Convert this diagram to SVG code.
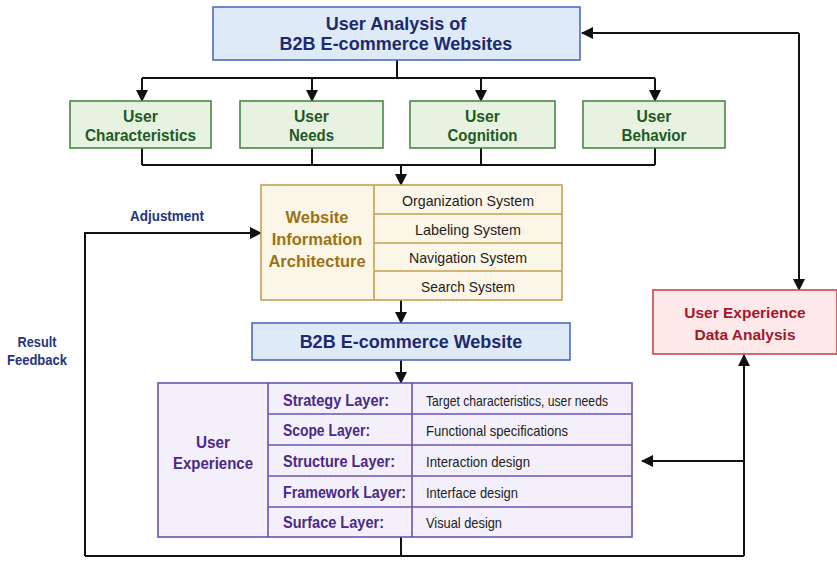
<svg xmlns="http://www.w3.org/2000/svg" width="837" height="561" viewBox="0 0 837 561">
<defs>
<marker id="ah" markerUnits="userSpaceOnUse" markerWidth="12" markerHeight="12" viewBox="0 0 12 12" refX="11" refY="6" orient="auto">
<path d="M0,0 L12,6 L0,12 Z" fill="#111"/>
</marker>
<style>
text{font-family:"Liberation Sans",Arial,sans-serif;text-anchor:middle}
.ln{fill:none;stroke:#111;stroke-width:2}
.ar{fill:none;stroke:#111;stroke-width:2;marker-end:url(#ah)}
.blue{fill:#dfeaf9;stroke:#4a6cc0;stroke-width:1.6}
.bt{fill:#1d2b6d;font-weight:bold;font-size:18px}
.green{fill:#e7f2e1;stroke:#4a8744;stroke-width:1.6}
.gt{fill:#1f5b24;font-weight:bold;font-size:16.5px}
.gold{fill:#fcf6e8;stroke:#c5a04f;stroke-width:1.6}
.goldt{fill:#9a7215;font-weight:bold;font-size:16.5px}
.sys{fill:#222;font-size:15px}
.purp{fill:#f4f0fb;stroke:#6c52b3;stroke-width:1.6}
.pt{fill:#4a2a86;font-weight:bold;font-size:17px}
.lay{fill:#4a2a86;font-weight:bold;font-size:16px;text-anchor:start}
.desc{fill:#222;font-size:15px;text-anchor:start}
.red{fill:#fde9ea;stroke:#c9474f;stroke-width:1.6}
.rt{fill:#a3172b;font-weight:bold;font-size:15.5px}
.lab{fill:#24357f;font-weight:bold;font-size:15px}
</style>
</defs>
<rect width="837" height="561" fill="#ffffff"/>

<g id="connectors">
<path class="ln" d="M397,60 V78 M142,78 H655"/>
<path class="ar" d="M142,78 V101"/>
<path class="ar" d="M312,78 V101"/>
<path class="ar" d="M481,78 V101"/>
<path class="ar" d="M655,78 V101"/>
<path class="ln" d="M142,148 V165 M312,148 V165 M481,148 V165 M655,148 V165 M142,165 H655"/>
<path class="ar" d="M401,165 V185"/>
<path class="ar" d="M401,300 V323"/>
<path class="ar" d="M401,360 V383"/>
<path class="ln" d="M401,537 V556 M85,556 H744"/>
<path class="ar" d="M85,556 V233 H261"/>
<path class="ar" d="M744,556 V355"/>
<path class="ar" d="M744,461 H642"/>
<path class="ar" d="M799,33 V290"/>
<path class="ar" d="M799,33 H582"/>
<text class="lab" x="167" y="221" textLength="74" lengthAdjust="spacingAndGlyphs">Adjustment</text>
<text class="lab" x="37" y="347" textLength="39" lengthAdjust="spacingAndGlyphs">Result</text>
<text class="lab" x="37" y="365" textLength="60" lengthAdjust="spacingAndGlyphs">Feedback</text>
</g>

<g id="user-analysis">
<rect class="blue" x="213" y="7" width="367" height="53"/>
<text class="bt" x="396" y="30">User Analysis of</text>
<text class="bt" x="396" y="50">B2B E-commerce Websites</text>
</g>

<g id="user-characteristics">
<rect class="green" x="70" y="101" width="141" height="47"/>
<text class="gt" x="140.5" y="121.5" textLength="35" lengthAdjust="spacingAndGlyphs">User</text>
<text class="gt" x="140.5" y="140.5" textLength="111" lengthAdjust="spacingAndGlyphs">Characteristics</text>
</g>
<g id="user-needs">
<rect class="green" x="240" y="101" width="143" height="47"/>
<text class="gt" x="311.5" y="121.5" textLength="35" lengthAdjust="spacingAndGlyphs">User</text>
<text class="gt" x="311.5" y="140.5" textLength="45" lengthAdjust="spacingAndGlyphs">Needs</text>
</g>
<g id="user-cognition">
<rect class="green" x="410" y="101" width="145" height="47"/>
<text class="gt" x="482.5" y="121.5" textLength="35" lengthAdjust="spacingAndGlyphs">User</text>
<text class="gt" x="482.5" y="140.5" textLength="70" lengthAdjust="spacingAndGlyphs">Cognition</text>
</g>
<g id="user-behavior">
<rect class="green" x="583" y="101" width="142" height="47"/>
<text class="gt" x="654" y="121.5" textLength="35" lengthAdjust="spacingAndGlyphs">User</text>
<text class="gt" x="654" y="140.5" textLength="65" lengthAdjust="spacingAndGlyphs">Behavior</text>
</g>

<g id="information-architecture">
<rect class="gold" x="261" y="185" width="301" height="115"/>
<path d="M374,185 V300 M374,214 H562 M374,243 H562 M374,271 H562" fill="none" stroke="#c5a04f" stroke-width="1.6"/>
<text class="goldt" x="317" y="223">Website</text>
<text class="goldt" x="317" y="245">Information</text>
<text class="goldt" x="317" y="267">Architecture</text>
<text class="sys" x="468" y="206" textLength="132" lengthAdjust="spacingAndGlyphs">Organization System</text>
<text class="sys" x="468" y="235" textLength="106" lengthAdjust="spacingAndGlyphs">Labeling System</text>
<text class="sys" x="468" y="263" textLength="118" lengthAdjust="spacingAndGlyphs">Navigation System</text>
<text class="sys" x="468" y="292" textLength="94" lengthAdjust="spacingAndGlyphs">Search System</text>
</g>

<g id="b2b-website">
<rect class="blue" x="252" y="323" width="318" height="37"/>
<text class="bt" x="411" y="348">B2B E-commerce Website</text>
</g>

<g id="user-experience">
<rect class="purp" x="158" y="383" width="474" height="154"/>
<path d="M268,383 V537 M412,383 V537 M268,414 H632 M268,445 H632 M268,476 H632 M268,507 H632" fill="none" stroke="#6c52b3" stroke-width="1.6"/>
<text class="pt" x="213" y="448" textLength="34" lengthAdjust="spacingAndGlyphs">User</text>
<text class="pt" x="213" y="469" textLength="80" lengthAdjust="spacingAndGlyphs">Experience</text>
<text class="lay" x="283" y="406" textLength="106" lengthAdjust="spacingAndGlyphs">Strategy Layer:</text>
<text class="lay" x="283" y="436" textLength="87" lengthAdjust="spacingAndGlyphs">Scope Layer:</text>
<text class="lay" x="283" y="467" textLength="112" lengthAdjust="spacingAndGlyphs">Structure Layer:</text>
<text class="lay" x="283" y="498" textLength="123" lengthAdjust="spacingAndGlyphs">Framework Layer:</text>
<text class="lay" x="283" y="528" textLength="101" lengthAdjust="spacingAndGlyphs">Surface Layer:</text>
<text class="desc" x="426" y="406" textLength="182" lengthAdjust="spacingAndGlyphs">Target characteristics, user needs</text>
<text class="desc" x="426" y="436" textLength="142" lengthAdjust="spacingAndGlyphs">Functional specifications</text>
<text class="desc" x="426" y="467" textLength="104" lengthAdjust="spacingAndGlyphs">Interaction design</text>
<text class="desc" x="426" y="498" textLength="92" lengthAdjust="spacingAndGlyphs">Interface design</text>
<text class="desc" x="426" y="528" textLength="76" lengthAdjust="spacingAndGlyphs">Visual design</text>
</g>

<g id="ux-data-analysis">
<rect class="red" x="653" y="290" width="184" height="64"/>
<text class="rt" x="745" y="318">User Experience</text>
<text class="rt" x="745" y="340">Data Analysis</text>
</g>
</svg>
